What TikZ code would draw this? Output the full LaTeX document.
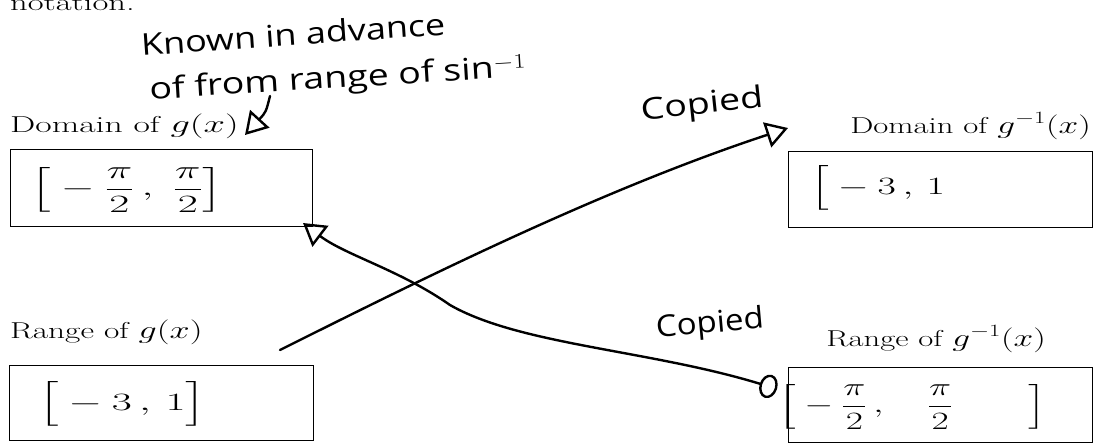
\documentclass[tikz,border=0pt]{standalone}
\usepackage{fontspec}
\usepackage{amsmath}
\usepackage{graphicx}
\usetikzlibrary{arrows.meta}
\newfontfamily\handfont{Open Sans}
\newcommand\sx[2][1.5]{\scalebox{#1}[1]{#2}}
\tikzset{
  box/.style={draw, line width=1.2pt, inner sep=0pt, anchor=north west},
  lbl/.style={inner sep=0pt, anchor=base west, font=\fontsize{23}{27}\selectfont},
  hand/.style={inner sep=0pt, font=\handfont\fontsize{30}{34}\selectfont},
  mathhand/.style={inner sep=0pt, font=\fontsize{25}{29}\selectfont},
  ink/.style={line width=2.4pt, line cap=round, line join=round},
  opentip/.style={-{Triangle[open,length=22pt,width=26pt,line width=2.4pt]}},
}
\begin{document}
\begin{tikzpicture}[x=1pt,y=-1pt]
\useasboundingbox (0,0) rectangle (1094,445);
\clip (0,0) rectangle (1094,445);
\fill[white] (0,0) rectangle (1094,445);

% cut-off line above
\node[lbl] (note) at (10,10) {\sx{notation.}};

% labels
\node[lbl] (lA) at (10,132) {\sx[1.55]{Domain of $g(x)$}};
\node[lbl, anchor=base east] (lB) at (1091,133) {\sx[1.42]{Domain of $g^{-1}(x)$}};
\node[lbl] (lC) at (10,338) {\sx[1.45]{Range of $g(x)$}};
\node[lbl, anchor=base east] (lD) at (1046,346) {\sx[1.42]{Range of $g^{-1}(x)$}};

% boxes
\node[box, minimum width=302pt, minimum height=77pt] (A) at (10,149) {};
\node[box, minimum width=304pt, minimum height=76pt] (B) at (788,151) {};
\node[box, minimum width=304pt, minimum height=75pt] (C) at (9,365) {};
\node[box, minimum width=304pt, minimum height=75pt] (D) at (788,367) {};

% handwritten contents
\node[mathhand] (vA) at (127,190) {\sx[1.75]{$\Big[-\dfrac{\pi}{2}\,,\;\dfrac{\pi}{2}\Big]$}};
\node[mathhand, anchor=west] (vB) at (810,188) {\sx[1.6]{$\Big[-3\,,\,1$}};
\node[mathhand, anchor=west] (vC) at (38,404) {\sx[1.75]{$\Big[-3\,,\,1\Big]$}};
\node[mathhand] (vD) at (912,407) {\sx[1.5]{$\Big[-\dfrac{\pi}{2}\,,\quad\dfrac{\pi}{2}\qquad\Big]$}};

% handwritten notes
\node[hand, rotate=4] (n1) at (293,34) {\sx[1.2]{Known in advance}};
\node[hand, rotate=3.5] (n2) at (338,80) {\sx[1.25]{of from range of sin$^{-1}$}};
\node[hand, rotate=6] (cp1) at (702,106) {\sx[1.25]{Copied}};
\node[hand, rotate=5] (cp2) at (710,325) {\sx[1.1]{Copied}};

% connector end points
\coordinate (s0) at (270,96);
\coordinate (e0) at (245,135);
\coordinate (s1) at (280,350);
\coordinate (e1) at (788,128);
\coordinate (s2) at (777,389);
\coordinate (e2) at (303,223);

% connectors
\draw[ink, opentip] (s0) .. controls (266,112) .. (e0);
\draw[ink, opentip] (s1) .. controls (420,280) and (600,190) .. (e1);
\draw[ink, {Circle[open,length=18pt,width=24pt,line width=2.4pt]}-{Triangle[open,length=22pt,width=26pt,line width=2.4pt]}]
  (s2) .. controls (650,350) and (520,345) .. (450,305)
       .. controls (400,270) and (345,255) .. (e2);
\end{tikzpicture}
\end{document}
